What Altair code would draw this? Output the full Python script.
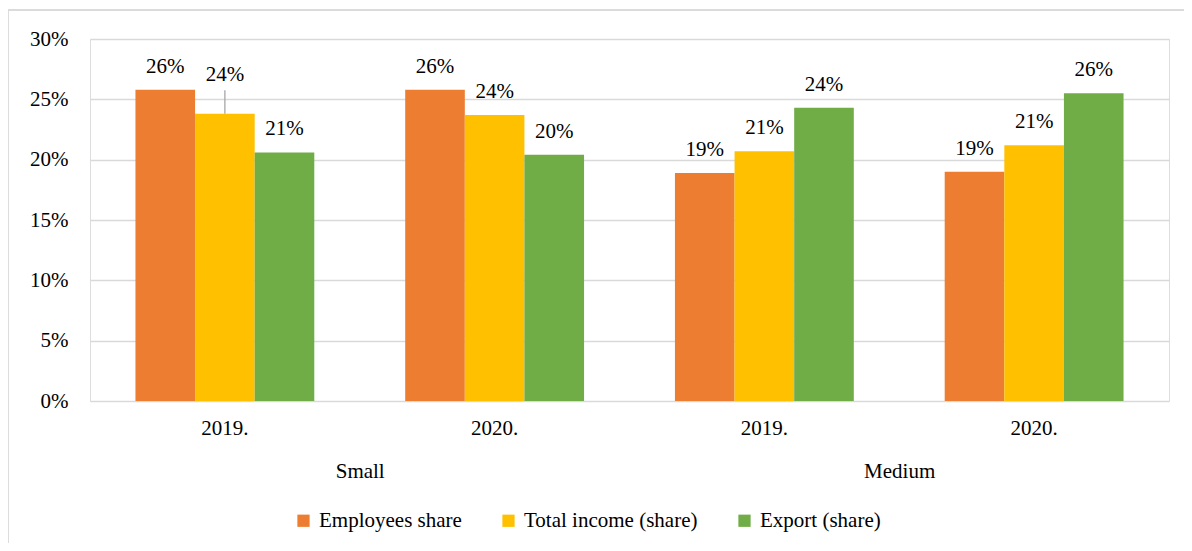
import altair as alt
import pandas as pd

groups = ["Small", "Small", "Medium", "Medium"]
years = ["2019.", "2020.", "2019.", "2020."]
series = ["Employees share", "Total income (share)", "Export (share)"]
employees = [0.258, 0.258, 0.189, 0.190]
income = [0.238, 0.237, 0.207, 0.212]
export = [0.206, 0.204, 0.243, 0.255]
colors = ["#ED7D31", "#FFC000", "#70AD47"]

rows = []
keys = [f"{g}|{y}" for g, y in zip(groups, years)]
for s, vals in zip(series, [employees, income, export]):
    for k, v in zip(keys, vals):
        rows.append({"key": k, "series": s, "value": v})
df = pd.DataFrame(rows)

grp_df = pd.DataFrame({"key": ["Small|2020.", "Medium|2020."], "label": ["Small", "Medium"]})

FONT = "'Liberation Serif', 'DejaVu Serif', serif"
W, H = 1079, 362

x_enc = alt.X("key:N", sort=keys, title=None,
              scale=alt.Scale(paddingInner=0.337, paddingOuter=0.1685),
              axis=alt.Axis(labelExpr="split(datum.label,'|')[1]", labelAngle=0,
                            ticks=False, domain=False, labelFont=FONT, labelFontSize=21,
                            labelColor="#000000", labelPadding=16, grid=False))
y_enc = alt.Y("value:Q", title=None,
              scale=alt.Scale(domain=[0, 0.30], nice=False),
              axis=alt.Axis(format=".0%", values=[0, 0.05, 0.10, 0.15, 0.20, 0.25, 0.30],
                            ticks=False, domain=False, labelFont=FONT, labelFontSize=21,
                            labelColor="#000000", labelPadding=22,
                            gridColor="#d9d9d9", gridWidth=1.3))
xoff = alt.XOffset("series:N", sort=series, scale=alt.Scale(paddingInner=0, paddingOuter=0))

base = alt.Chart(df)

bars = base.mark_bar().encode(
    x=x_enc, y=y_enc, xOffset=xoff,
    color=alt.Color("series:N", sort=series,
                    scale=alt.Scale(domain=series, range=colors),
                    legend=alt.Legend(title=None, orient="none", direction="horizontal",
                                      legendX=203, legendY=471,
                                      symbolType="square", symbolSize=150,
                                      symbolStrokeWidth=0, labelLimit=0,
                                      labelFont=FONT, labelFontSize=21, labelColor="#000000",
                                      labelOffset=5, columnPadding=36)),
)

normal = base.transform_filter("!(datum.key=='Small|2019.' && datum.series=='Total income (share)')")
labels = normal.mark_text(font=FONT, fontSize=21, color="#000000", baseline="middle", dy=-23).encode(
    x=alt.X("key:N", sort=keys), y="value:Q", xOffset=alt.XOffset("series:N", sort=series),
    text=alt.Text("value:Q", format=".0%"),
)

special = base.transform_filter("datum.key=='Small|2019.' && datum.series=='Total income (share)'")
special_label = special.mark_text(font=FONT, fontSize=21, color="#000000", baseline="middle", dy=-39).encode(
    x=alt.X("key:N", sort=keys), y="value:Q", xOffset=alt.XOffset("series:N", sort=series),
    text=alt.Text("value:Q", format=".0%"),
)
leader = special.transform_calculate(top="datum.value + 0.0195").mark_rule(
    color="#a6a6a6", strokeWidth=1.3).encode(
    x=alt.X("key:N", sort=keys), xOffset=alt.XOffset("series:N", sort=series),
    y="value:Q", y2="top:Q",
)

grp_labels = alt.Chart(grp_df).mark_text(font=FONT, fontSize=21, color="#000000",
                                         baseline="middle", dx=-45).encode(
    x=alt.X("key:N", sort=keys, bandPosition=0),
    y=alt.value(H + 71),
    text="label:N",
)

border = alt.Chart(grp_df).mark_rect(fill=None, stroke="#d9d9d9", strokeWidth=1.3).encode(
    x=alt.value(-82), x2=alt.value(W + 80), y=alt.value(-29), y2=alt.value(H + 200),
)

chart = alt.layer(border, bars, labels, leader, special_label, grp_labels).properties(
    width=W, height=H,
    padding={"left": 82, "top": 31, "right": 15, "bottom": 142},
    autosize=alt.AutoSizeParams(type="none"),
).configure_view(stroke=None).configure(background="white", font=FONT)

chart.save("out.html", embed_options={"renderer": "svg", "actions": False})
